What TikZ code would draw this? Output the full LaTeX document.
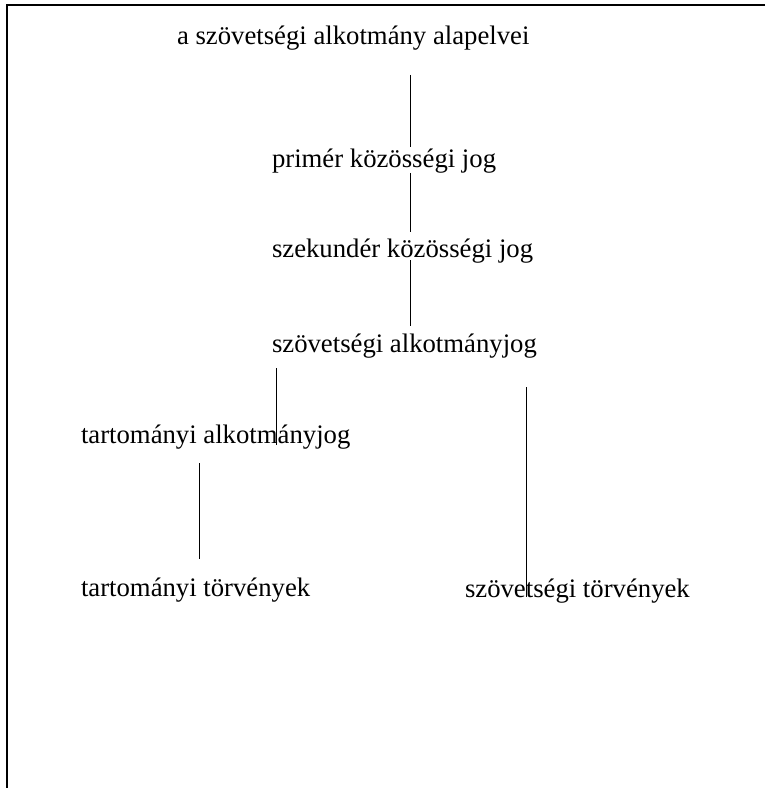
\documentclass[tikz,border=0pt]{standalone}
\usepackage{fontspec}
\setmainfont{Liberation Serif}
\usepackage{tikz}
\usetikzlibrary{calc,positioning}
\tikzset{
	lbl/.style={anchor=base west,inner sep=0pt,outer sep=0pt,font=\fontsize{19}{23}\selectfont},
	conn/.style={draw=black,line width=0.55pt},
	frame/.style={draw=black,line width=1.4pt}}
\begin{document}
\begin{tikzpicture}[x=0.025cm,y=-0.025cm]
	\useasboundingbox (0,0) rectangle (765,788);
	\draw[frame] (765,5.3) -- (6.9,5.3) -- (6.9,788);
	\node (alapelvek) at (177,45) [lbl] {a szövetségi alkotmány alapelvei};
	\node (primer) at (272,167) [lbl] {primér közösségi jog};
	\node (szekunder) at (272,257) [lbl] {szekundér közösségi jog};
	\node (szovalk) at (272,352) [lbl] {szövetségi alkotmányjog};
	\node (tartalk) at (81,443) [lbl] {tartományi alkotmányjog};
	\node (tarttorv) at (81,596) [lbl] {tartományi törvények};
	\node (szovtorv) at (465,597) [lbl] {szövetségi törvények};
	\coordinate (a1) at (410,75);
	\coordinate (a2) at (410,147);
	\coordinate (b1) at (410,173);
	\coordinate (b2) at (410,232);
	\coordinate (c1) at (410,260);
	\coordinate (c2) at (410,326);
	\coordinate (d1) at (276,368);
	\coordinate (d2) at (276,445);
	\coordinate (e1) at (199,463);
	\coordinate (e2) at (199,559);
	\coordinate (f1) at (526,387);
	\coordinate (f2) at (526,597);
	\draw[conn] (a1) -- (a2);
	\draw[conn] (b1) -- (b2);
	\draw[conn] (c1) -- (c2);
	\draw[conn] (d1) -- (d2);
	\draw[conn] (e1) -- (e2);
	\draw[conn] (f1) -- (f2);
\end{tikzpicture}
\end{document}
